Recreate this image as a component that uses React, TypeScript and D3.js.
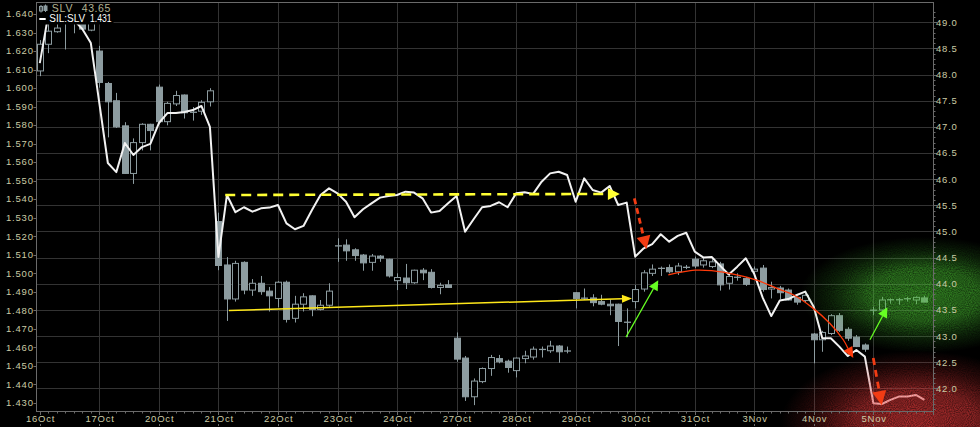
import React, { useEffect } from 'react';
import * as d3 from 'd3';

const W = 980;
const H = 427;

const days = ['16Oct', '17Oct', '20Oct', '21Oct', '22Oct', '23Oct', '24Oct', '27Oct', '28Oct', '29Oct', '30Oct', '31Oct', '3Nov', '4Nov', '5Nov'];
const barsPerDay = 7;

// SLV hourly candles (7 per day)
const slvOpen = [
  48.07, 48.58, 48.82, 48.98, 49.0, 49.03, 48.85,
  48.45, 47.83, 47.5, 47.02, 46.11, 46.7, 47.05,
  47.76, 47.1, 47.44, 47.61, 47.27, 47.3, 47.48,
  45.19, 44.36, 43.71, 44.41, 43.88, 44.01, 43.86,
  43.72, 44.03, 43.34, 43.61, 43.77, 43.51, 43.59,
  44.72, 44.74, 44.65, 44.55, 44.41, 44.53, 44.47,
  44.06, 44.11, 44.02, 44.26, 44.22, 43.93, 43.98,
  42.96, 42.58, 41.84, 42.13, 42.38, 42.57, 42.52,
  42.34, 42.57, 42.6, 42.74, 42.72, 42.81, 42.72,
  43.83, 43.73, 43.73, 43.66, 43.61, 43.61, 43.27,
  43.66, 43.9, 44.2, 44.29, 44.31, 44.23, 44.32,
  44.47, 44.36, 44.33, 44.38, 44.01, 44.12, 44.1,
  44.24, 44.3, 43.9, 43.92, 43.88, 43.74, 43.68,
  43.04, 42.93, 43.05, 43.39, 43.13, 42.98, 42.83,
  43.5, 43.5, 43.69, 43.7, 43.71, 43.69, 43.73,
];
const slvHigh = [
  48.66, 48.97, 49.02, 49.08, 49.08, 49.08, 49.08,
  48.55, 47.86, 47.65, 47.09, 46.78, 47.07, 47.06,
  47.81, 47.48, 47.69, 47.62, 47.38, 47.51, 47.74,
  45.36, 44.51, 44.44, 44.43, 44.09, 44.15, 43.94,
  44.05, 44.06, 43.77, 43.82, 43.78, 43.69, 44.01,
  44.87, 44.85, 44.68, 44.57, 44.57, 44.55, 44.48,
  44.2, 44.38, 44.27, 44.3, 44.28, 44.02, 44.07,
  43.07, 42.62, 42.19, 42.4, 42.64, 42.64, 42.55,
  42.59, 42.72, 42.8, 42.8, 42.91, 42.83, 42.8,
  43.84, 43.91, 43.8, 43.79, 43.7, 43.62, 43.53,
  43.98, 44.26, 44.37, 44.33, 44.37, 44.4, 44.36,
  44.52, 44.5, 44.47, 44.42, 44.2, 44.2, 44.13,
  44.33, 44.36, 44.04, 43.96, 43.91, 43.75, 43.8,
  43.06, 43.1, 43.42, 43.44, 43.17, 43.02, 42.86,
  43.56, 43.75, 43.72, 43.73, 43.75, 43.76, 43.77,
];
const slvLow = [
  47.97, 48.41, 48.8, 48.48, 48.79, 48.85, 48.83,
  47.75, 46.8, 46.98, 46.1, 45.91, 46.55, 46.55,
  47.05, 47.03, 47.4, 47.16, 47.12, 47.23, 47.39,
  44.26, 43.29, 43.66, 43.8, 43.77, 43.79, 43.47,
  43.55, 43.26, 43.26, 43.47, 43.38, 43.49, 43.56,
  44.42, 44.44, 44.44, 44.25, 44.25, 44.42, 44.12,
  43.88, 43.9, 44.0, 44.07, 43.91, 43.8, 43.92,
  42.51, 41.76, 41.68, 42.1, 42.24, 42.48, 42.3,
  42.21, 42.48, 42.55, 42.59, 42.68, 42.49, 42.67,
  43.53, 43.69, 43.57, 43.59, 43.4, 42.81, 42.98,
  43.53, 43.85, 44.15, 44.15, 44.2, 44.17, 44.28,
  44.3, 44.31, 44.3, 43.87, 43.89, 44.06, 43.96,
  44.15, 43.85, 43.72, 43.7, 43.68, 43.6, 43.64,
  42.48, 42.7, 43.02, 43.08, 42.91, 42.79, 42.7,
  43.4, 43.47, 43.62, 43.6, 43.66, 43.61, 43.65,
];
const slvClose = [
  48.58, 48.83, 48.89, 49.03, 49.04, 48.87, 49.02,
  47.85, 47.48, 47.0, 46.11, 46.7, 47.05, 46.93,
  47.1, 47.45, 47.6, 47.27, 47.29, 47.47, 47.69,
  44.35, 43.71, 44.39, 43.88, 44.01, 43.85, 43.77,
  44.03, 43.32, 43.61, 43.75, 43.51, 43.59, 43.86,
  44.73, 44.63, 44.54, 44.4, 44.53, 44.49, 44.15,
  44.12, 44.02, 44.26, 44.21, 43.93, 43.97, 43.93,
  42.56, 41.84, 42.14, 42.38, 42.59, 42.51, 42.4,
  42.58, 42.62, 42.75, 42.75, 42.81, 42.7, 42.71,
  43.72, 43.72, 43.64, 43.61, 43.58, 43.28, 43.26,
  43.89, 44.21, 44.28, 44.3, 44.23, 44.34, 44.31,
  44.34, 44.44, 44.42, 43.98, 44.14, 44.13, 43.99,
  44.28, 43.89, 43.93, 43.83, 43.69, 43.65, 43.78,
  42.93, 43.07, 43.39, 43.11, 42.96, 42.8, 42.75,
  43.49, 43.69, 43.7, 43.69, 43.72, 43.74, 43.65,
];
// SIL:SLV ratio (left axis)
const silSlvRatio = [
  1.6135, 1.6395, 1.6411, 1.64, 1.6368, 1.6319, 1.6243,
  1.5919, 1.5595, 1.5546, 1.5703, 1.5638, 1.5681, 1.5698,
  1.5811, 1.5865, 1.5865, 1.5871, 1.5881, 1.5903, 1.579,
  1.5087, 1.5422, 1.5329, 1.5356, 1.5332, 1.535, 1.5354,
  1.5368, 1.5269, 1.5237, 1.5255, 1.5341, 1.5422, 1.5458,
  1.5431, 1.5386, 1.5302, 1.5345, 1.5377, 1.5408, 1.5417,
  1.5422, 1.544, 1.5435, 1.5404, 1.5327, 1.5336, 1.5377,
  1.5417, 1.5224, 1.5291, 1.5356, 1.5363, 1.5383, 1.5356,
  1.5431, 1.5437, 1.5428, 1.5494, 1.5539, 1.5548, 1.553,
  1.5386, 1.5512, 1.5449, 1.5435, 1.5471, 1.5368, 1.5381,
  1.5089, 1.5134, 1.5157, 1.521, 1.517, 1.5201, 1.5218,
  1.5116, 1.5085, 1.5087, 1.5039, 1.4993, 1.5035, 1.508,
  1.4995, 1.4866, 1.4768, 1.4852, 1.486, 1.4882, 1.49,
  1.4817, 1.4648, 1.4648, 1.4603, 1.4552, 1.4585, 1.4549,
  1.4297, 1.4293, 1.4315, 1.4333, 1.4333, 1.4342, 1.4315,
];

const ratioTickLabels = ['1.430', '1.440', '1.450', '1.460', '1.470', '1.480', '1.490', '1.500', '1.510', '1.520', '1.530', '1.540', '1.550', '1.560', '1.570', '1.580', '1.590', '1.600', '1.610', '1.620', '1.630', '1.640'];
const priceTickLabels = ['42.0', '42.5', '43.0', '43.5', '44.0', '44.5', '45.0', '45.5', '46.0', '46.5', '47.0', '47.5', '48.0', '48.5', '49.0'];

// annotations in data units: [bar index, value]
const yellowDashed = [[21.8, 1.5422], [68.2, 1.5428]]; // ratio
const redDashedRatio = [[69.9, 1.5404], [71.33, 1.513]]; // ratio
const yellowSolid = [[22.24, 43.49], [69.62, 43.72]]; // price
const greenArrows = [
  [[68.92, 42.98], [72.71, 44.07]],
  [[97.6, 42.93], [99.64, 43.55]],
];
const redCurve = [[73.89, 44.17], [77.03, 44.26], [78.99, 44.25], [81.93, 44.17], [84.28, 44.07], [87.02, 43.89], [88.58, 43.79], [90.93, 43.53], [92.9, 43.24], [94.46, 42.93], [95.64, 42.58]];
const redDashedPrice = [[97.99, 42.58], [98.98, 41.68]];
const greenZone = { bars: [88.2, 117.5], price: [42.68, 44.9] };
const redZone = { bars: [86.5, 118.5], price: [40.3, 43.05] };

const PL = 36, PR = 933, PT = 2, PB = 411;
const FONT = "'Liberation Sans', Arial, sans-serif";
const TXT = '#cbcba6';
const CANDLE = '#8d9ca0';

function arrowHead(tip: [number, number], from: [number, number], L: number, w: number) {
  const a = Math.atan2(tip[1] - from[1], tip[0] - from[0]);
  const bx = tip[0] - L * Math.cos(a), by = tip[1] - L * Math.sin(a);
  const nx = -Math.sin(a), ny = Math.cos(a);
  return { path: `M${tip[0]},${tip[1]}L${bx + w * nx},${by + w * ny}L${bx - w * nx},${by - w * ny}Z`, base: [bx, by] as [number, number] };
}

export default function App() {
  useEffect(() => {
    document.body.style.margin = '0';
    document.body.style.background = '#000';
  }, []);

  const n = days.length * barsPerDay;
  const x = d3.scaleLinear().domain([0, n]).range([39.8, 932.9]);
  const yP = d3.scaleLinear().domain([42, 49]).range([388.4, 22.3]);
  const yR = d3.scaleLinear().domain([1.43, 1.64]).range([402.7, 14]);

  const ratioLine = d3.line<number>().x((_, i) => x(i)).y((d) => yR(d))(silSlvRatio) || '';

  const pricePt = (p: number[]) => [x(p[0]), yP(p[1])] as [number, number];
  const ratioPt = (p: number[]) => [x(p[0]), yR(p[1])] as [number, number];

  const minorPrice = d3.range(416, 493).map((v) => v / 10).filter((v) => yP(v) > PT && yP(v) < PB);

  const candles = slvOpen.map((o, i) => {
    const c = slvClose[i], h = slvHigh[i], l = slvLow[i];
    const cx = Math.round(x(i)) + 0.5;
    const top = yP(Math.max(o, c)), bot = yP(Math.min(o, c));
    const up = c >= o;
    const flat = bot - top < 1.5;
    return (
      <g key={i}>
        <line x1={cx} x2={cx} y1={yP(h)} y2={yP(l)} stroke={CANDLE} strokeWidth={1} />
        {flat ? (
          <line x1={cx - 3.5} x2={cx + 3.5} y1={(top + bot) / 2} y2={(top + bot) / 2} stroke={CANDLE} strokeWidth={1.3} />
        ) : (
          <rect x={cx - 3} y={top} width={6} height={bot - top} fill={up ? '#000' : CANDLE} stroke={CANDLE} strokeWidth={1} />
        )}
      </g>
    );
  });

  // annotations
  const yd = yellowDashed.map(ratioPt);
  const ydHead = arrowHead(yd[1], yd[0], 12, 6);
  const ys = yellowSolid.map(pricePt);
  const ysHead = arrowHead(ys[1], ys[0], 10, 4);
  const rd1 = redDashedRatio.map(ratioPt);
  const rd1Head = arrowHead(rd1[1], rd1[0], 13, 7);
  const rd2 = redDashedPrice.map(pricePt);
  const rd2Head = arrowHead(rd2[1], rd2[0], 14, 7);
  const rc = redCurve.map(pricePt);
  const rcHead = arrowHead(rc[rc.length - 1], rc[rc.length - 2], 11, 5);
  const rcPath = d3.line().curve(d3.curveCatmullRom)([...rc.slice(0, -1), rcHead.base]) || '';

  const zoneRect = (z: { bars: number[]; price: number[] }) => ({
    x: x(z.bars[0]), y: yP(z.price[1]), w: x(z.bars[1]) - x(z.bars[0]), h: yP(z.price[0]) - yP(z.price[1]),
  });
  const gz = zoneRect(greenZone);
  const rz = zoneRect(redZone);

  return (
    <svg width={W} height={H} style={{ display: 'block', position: 'absolute', left: 0, top: 0, background: '#000' }}>
      <defs>
        <radialGradient id="gGreen" cx="0.54" cy="0.5" r="0.5">
          <stop offset="0" stopColor="#4ac232" stopOpacity={0.62} />
          <stop offset="0.45" stopColor="#4ac232" stopOpacity={0.52} />
          <stop offset="0.75" stopColor="#3fae2c" stopOpacity={0.2} />
          <stop offset="1" stopColor="#3fae2c" stopOpacity={0} />
        </radialGradient>
        <radialGradient id="gRed" cx="0.52" cy="0.62" r="0.5">
          <stop offset="0" stopColor="#e23a3a" stopOpacity={0.7} />
          <stop offset="0.45" stopColor="#e23a3a" stopOpacity={0.56} />
          <stop offset="0.75" stopColor="#d03030" stopOpacity={0.22} />
          <stop offset="1" stopColor="#d03030" stopOpacity={0} />
        </radialGradient>
        <filter id="grain" x="0" y="0" width="1" height="1" colorInterpolationFilters="sRGB">
          <feTurbulence type="fractalNoise" baseFrequency="0.95" numOctaves="1" seed="7" result="t" />
          <feColorMatrix in="t" type="matrix" values="0 0 0 0 1  0 0 0 0 1  0 0 0 0 1  1.6 0 0 0 -0.35" result="nz" />
          <feComposite in="SourceGraphic" in2="nz" operator="arithmetic" k1="0.7" k2="0.55" k3="0" k4="0" />
        </filter>
      </defs>
      <rect x={0} y={0} width={W} height={H} fill="#000" />

      {/* grid */}
      <g stroke="#333" strokeWidth={1}>
        {priceTickLabels.map((t) => (
          <line key={t} x1={PL} x2={PR} y1={Math.round(yP(+t)) + 0.5} y2={Math.round(yP(+t)) + 0.5} />
        ))}
        {days.map((d, i) => (i === 0 ? null : (
          <line key={d} x1={Math.round(x(i * barsPerDay)) + 0.5} x2={Math.round(x(i * barsPerDay)) + 0.5} y1={PT} y2={PB} />
        )))}
      </g>

      {/* candles */}
      <g>{candles}</g>

      {/* ratio line */}
      <path d={ratioLine} fill="none" stroke="#f2f2f2" strokeWidth={2} strokeLinejoin="round" />

      {/* glows */}
      <rect x={gz.x} y={gz.y} width={gz.w} height={gz.h} fill="url(#gGreen)" filter="url(#grain)" />
      <rect x={rz.x} y={rz.y} width={rz.w} height={rz.h} fill="url(#gRed)" filter="url(#grain)" />

      {/* legend */}
      <rect x={PL + 0.5} y={PT} width={77} height={22.5} fill="#000" />
      <g stroke={CANDLE} fill={CANDLE}>
        <line x1={41} x2={41} y1={5} y2={12.5} />
        <rect x={39.5} y={6.5} width={3} height={4.5} fill="none" />
        <line x1={45.5} x2={45.5} y1={4.5} y2={12} />
        <rect x={44} y={6} width={3} height={4.5} />
      </g>
      <text x={51.7} y={11.8} fontFamily={FONT} fontSize={10.5} fill="#b4b494" letterSpacing={0.9}>SLV</text>
      <text x={81.7} y={11.8} fontFamily={FONT} fontSize={10.5} fill="#b4b494" letterSpacing={0.6}>43.65</text>
      <line x1={39.3} x2={45.7} y1={19} y2={19} stroke="#fff" strokeWidth={2} />
      <text x={49.3} y={22.3} fontFamily={FONT} fontSize={10} fill="#fff">SIL:SLV</text>
      <text x={90} y={22.3} fontFamily={FONT} fontSize={10} fill="#fff" textLength={21.5} lengthAdjust="spacingAndGlyphs">1.431</text>

      {/* axes */}
      <g stroke="#6a6a6a" strokeWidth={1} fill="none">
        <line x1={PL + 0.5} x2={PL + 0.5} y1={PT} y2={PB} />
        <line x1={PR + 0.5} x2={PR + 0.5} y1={PT} y2={PB} />
        <line x1={PL} x2={PR + 1} y1={PB + 0.5} y2={PB + 0.5} />
        <line x1={PL} x2={PR + 1} y1={PT + 0.5} y2={PT + 0.5} />
        {ratioTickLabels.map((t) => (
          <line key={t} x1={33.5} x2={PL} y1={Math.round(yR(+t)) + 0.5} y2={Math.round(yR(+t)) + 0.5} />
        ))}
        {minorPrice.map((v) => (
          <line key={v} x1={PR + 1} x2={PR + (Math.abs(v * 2 - Math.round(v * 2)) < 0.01 ? 4 : 2.5)} y1={Math.round(yP(v)) + 0.5} y2={Math.round(yP(v)) + 0.5} />
        ))}
        {d3.range(0, n + 1).map((k) => (
          <line key={k} x1={Math.round(x(k)) + 0.5} x2={Math.round(x(k)) + 0.5} y1={PB + 1} y2={PB + (k % barsPerDay === 0 ? 4 : 2.5)} />
        ))}
        {days.map((d, i) => (
          <line key={d} x1={Math.round(x(i * barsPerDay)) + 0.5} x2={Math.round(x(i * barsPerDay)) + 0.5} y1={424} y2={426} />
        ))}
      </g>
      <g fontFamily={FONT} fontSize={9.5} fill={TXT} letterSpacing={0.8}>
        {ratioTickLabels.map((t) => (
          <text key={t} x={33.8} y={yR(+t) + 3.4} textAnchor="end">{t}</text>
        ))}
        {priceTickLabels.map((t) => (
          <text key={t} x={936} y={yP(+t) + 3.4}>{t}</text>
        ))}
        {days.map((d, i) => (
          <text key={d} x={x(i * barsPerDay) + 0.8} y={421.7} textAnchor="middle">{d}</text>
        ))}
      </g>

      {/* annotations */}
      <line x1={yd[0][0]} y1={yd[0][1]} x2={ydHead.base[0]} y2={ydHead.base[1]} stroke="#ffff33" strokeWidth={2.6} strokeDasharray="10 6" />
      <path d={ydHead.path} fill="#ffff33" />
      <line x1={ys[0][0]} y1={ys[0][1]} x2={ysHead.base[0]} y2={ysHead.base[1]} stroke="#ffe81a" strokeWidth={1.5} />
      <path d={ysHead.path} fill="#ffe81a" />
      {greenArrows.map((g, i) => {
        const p = g.map(pricePt);
        const hd = arrowHead(p[1], p[0], 10, 5);
        return (
          <g key={i}>
            <line x1={p[0][0]} y1={p[0][1]} x2={hd.base[0]} y2={hd.base[1]} stroke="#66ff22" strokeWidth={1.2} />
            <path d={hd.path} fill="#66ff22" />
          </g>
        );
      })}
      <line x1={rd1[0][0]} y1={rd1[0][1]} x2={rd1Head.base[0]} y2={rd1Head.base[1]} stroke="#f23c14" strokeWidth={2.8} strokeDasharray="6 4" />
      <path d={rd1Head.path} fill="#f23c14" />
      <path d={rcPath} fill="none" stroke="#ff3a0a" strokeWidth={1.3} />
      <path d={rcHead.path} fill="#ff3a0a" />
      <line x1={rd2[0][0]} y1={rd2[0][1]} x2={rd2Head.base[0]} y2={rd2Head.base[1]} stroke="#f23c14" strokeWidth={2.8} strokeDasharray="7 5" />
      <path d={rd2Head.path} fill="#f23c14" />
    </svg>
  );
}
